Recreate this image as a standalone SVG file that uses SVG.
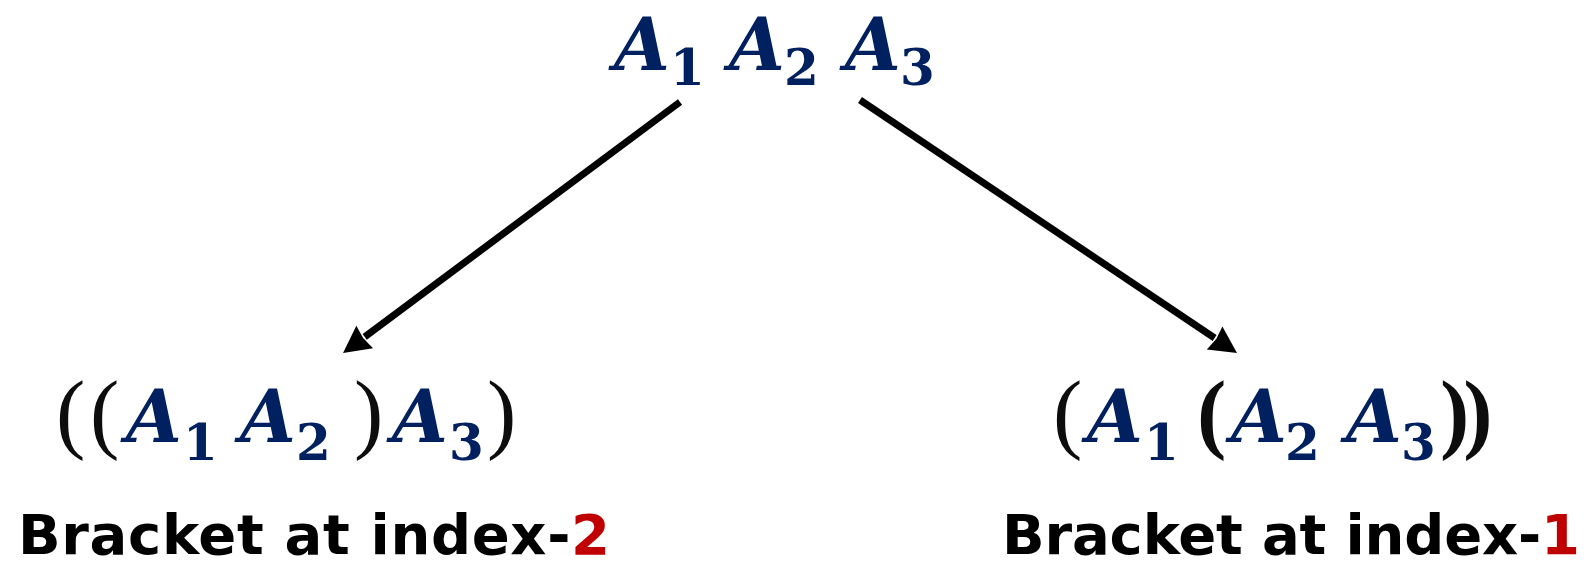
<svg xmlns="http://www.w3.org/2000/svg" width="1595" height="566" viewBox="0 0 1595 566">
<style>
.A{font-family:"DejaVu Serif","Liberation Serif",serif;font-weight:bold;font-style:italic;font-size:72px;fill:#002060}
.s{font-family:"DejaVu Serif","Liberation Serif",serif;font-weight:bold;font-size:50px;fill:#002060}
.p{font-family:"Liberation Serif","Times New Roman",serif;font-size:88px;fill:#0d0d0d}
.pb{font-family:"Liberation Serif","Times New Roman",serif;font-weight:bold;font-size:88px;fill:#0d0d0d}
.lbl{font-family:"DejaVu Sans","Liberation Sans",sans-serif;font-weight:bold;font-size:56px;fill:#000}
.red{fill:#c00000}
.conn{stroke:#000;stroke-width:7;fill:none}
</style>
<defs>
<marker id="ah" markerUnits="userSpaceOnUse" markerWidth="40" markerHeight="40" viewBox="-5 -20 40 40" refX="0" refY="0" orient="auto">
<path d="M0,-14 L27,0 L0,14 L2,0 Z" fill="#000"/>
</marker>
</defs>
<g id="top">
<text class="A" x="614" y="70">A</text><text class="s" x="670" y="85">1</text>
<text class="A" x="729" y="70">A</text><text class="s" x="784" y="85">2</text>
<text class="A" x="845" y="70">A</text><text class="s" x="900" y="85">3</text>
</g>
<g id="connectors">
<line class="conn" x1="680" y1="102" x2="364.7" y2="336.9" marker-end="url(#ah)"/>
<line class="conn" x1="860" y1="100" x2="1214.6" y2="338" marker-end="url(#ah)"/>
</g>
<g id="left">
<text class="p" x="56" y="442">(</text>
<text class="p" x="90" y="442">(</text>
<text class="A" x="126" y="442">A</text><text class="s" x="183" y="460">1</text>
<text class="A" x="240" y="442">A</text><text class="s" x="296" y="460">2</text>
<text class="p" x="354" y="442">)</text>
<text class="A" x="392" y="442">A</text><text class="s" x="449" y="460">3</text>
<text class="p" x="487" y="442">)</text>
<text class="lbl" x="18" y="554" textLength="592" lengthAdjust="spacing">Bracket at index-<tspan class="red">2</tspan></text>
</g>
<g id="right">
<text class="p" x="1053" y="442">(</text>
<text class="A" x="1087" y="442">A</text><text class="s" x="1144" y="460">1</text>
<text class="pb" x="1197" y="442">(</text>
<text class="A" x="1231" y="442">A</text><text class="s" x="1285" y="460">2</text>
<text class="A" x="1346" y="442">A</text><text class="s" x="1401" y="460">3</text>
<text class="pb" x="1440" y="442" letter-spacing="-6">))</text>
<text class="lbl" x="1002" y="554" textLength="578" lengthAdjust="spacing">Bracket at index-<tspan class="red">1</tspan></text>
</g>
</svg>
